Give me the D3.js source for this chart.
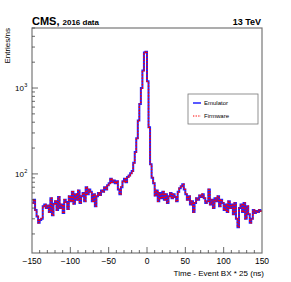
<!DOCTYPE html>
<html lang="en">
<head>
  <meta charset="UTF-8">
  <title>CMS timing</title>
  <script src="https://cdn.jsdelivr.net/npm/d3@7/dist/d3.min.js"></script>
  <style>
    body { margin: 0; background: #fff; }
    text { font-family: "Liberation Sans", Arial, Helvetica, sans-serif; }
  </style>
</head>
<body>
  <svg></svg>
  <script>
    const width = 291, height = 282;

    // bin low edges (ns), 2 ns bins
    const binWidth = 2;
    const entries = [
      46, 50, 38, 32, 27, 29, 30, 42, 44, 40,
      43, 36, 52, 33, 45, 48, 38, 54, 40, 44,
      35, 50, 47, 39, 55, 48, 62, 45, 58, 50,
      64, 46, 55, 60, 48, 70, 58, 66, 62, 48,
      58, 42, 55, 60, 57, 64, 62, 70, 66, 74,
      78, 88, 80, 84, 78, 82, 66, 58, 70, 82,
      88, 80, 92, 96, 102, 108, 135, 180, 260, 420,
      650, 1000, 1600, 2600, 2650, 1200, 350, 130, 90, 78,
      56, 64, 48, 60, 52, 62, 50, 58, 46, 55,
      60, 52, 58, 54, 48, 62, 68, 72, 76, 66,
      58, 50, 55, 44, 48, 36, 46, 52, 50, 56,
      54, 58, 52, 46, 48, 66, 44, 50, 40, 52,
      48, 55, 42, 50, 46, 38, 44, 36, 48, 40,
      44, 34, 46, 30, 24, 40, 44, 36, 46, 30,
      42, 34, 27, 30, 38, 35, 37, 36, 38, 37
    ];
    const xTicks = [-150, -100, -50, 0, 50, 100, 150];
    const yMajor = [100, 1000];
    const yExp = ["2", "3"];
    const legendLabels = ["Emulator", "Firmware"];

    const mLeft = 32, mRight = 262, mTop = 28, mBottom = 253;

    const x = d3.scaleLinear().domain([-150, 150]).range([mLeft, mRight]);
    const y = d3.scaleLog().domain([12, 5000]).range([mBottom, mTop]);

    const svg = d3.select("svg").attr("width", width).attr("height", height);

    const bins = entries.map((v, i) => ({ t: -150 + i * binWidth, v: v }));
    bins.push({ t: 150, v: entries[entries.length - 1] });

    const line = d3.line()
      .x(d => x(d.t))
      .y(d => y(d.v))
      .curve(d3.curveStepAfter);

    // histogram: emulator solid blue, firmware dotted red on top
    svg.append("path")
      .attr("d", line(bins))
      .attr("fill", "none")
      .attr("stroke", "#2222ff")
      .attr("stroke-width", 2);
    svg.append("path")
      .attr("d", line(bins))
      .attr("fill", "none")
      .attr("stroke", "#ff0000")
      .attr("stroke-width", 1.4)
      .attr("stroke-dasharray", "1.6,1.6");

    // frame
    svg.append("rect")
      .attr("x", mLeft).attr("y", mTop)
      .attr("width", mRight - mLeft).attr("height", mBottom - mTop)
      .attr("fill", "none")
      .attr("stroke", "#777")
      .attr("stroke-width", 1.2);

    // x ticks (inward)
    const xMinor = d3.range(-140, 150, 10);
    svg.selectAll(".xt").data(xMinor).enter().append("line")
      .attr("x1", d => x(d)).attr("x2", d => x(d))
      .attr("y1", mBottom).attr("y2", d => mBottom - (d % 50 === 0 ? 6 : 3))
      .attr("stroke", "#444").attr("stroke-width", 0.8);

    svg.selectAll(".xl").data(xTicks).enter().append("text")
      .attr("x", d => x(d)).attr("y", 264)
      .attr("text-anchor", "middle")
      .style("font-size", "8.5px")
      .text(d => d < 0 ? "\u2212" + Math.abs(d) : d);

    // y ticks (inward)
    const yMinor = [];
    [10, 100, 1000].forEach(dec => {
      for (let k = 1; k <= 9; k++) {
        const v = dec * k;
        if (v >= 12 && v <= 5000) yMinor.push(v);
      }
    });
    svg.selectAll(".yt").data(yMinor).enter().append("line")
      .attr("x1", mLeft).attr("x2", d => mLeft + (yMajor.includes(d) ? 6 : 3))
      .attr("y1", d => y(d)).attr("y2", d => y(d))
      .attr("stroke", "#444").attr("stroke-width", 0.8);

    svg.selectAll(".yl").data(yMajor).enter().append("text")
      .attr("x", 24).attr("y", d => y(d) + 3)
      .attr("text-anchor", "end")
      .style("font-size", "8px")
      .text("10");
    svg.selectAll(".ye").data(yMajor).enter().append("text")
      .attr("x", 24.3).attr("y", d => y(d) - 1)
      .style("font-size", "5.5px")
      .text((d, i) => yExp[i]);

    // axis titles
    svg.append("text")
      .attr("transform", `translate(10,${mTop}) rotate(-90)`)
      .attr("text-anchor", "end")
      .style("font-size", "8px")
      .text("Entries/ns");

    svg.append("text")
      .attr("x", mRight + 2).attr("y", 276)
      .attr("text-anchor", "end")
      .style("font-size", "8px")
      .text("Time - Event BX * 25 (ns)");

    // header
    const head = svg.append("text").attr("x", mLeft).attr("y", 25).style("font-weight", "bold");
    head.append("tspan").style("font-size", "11px").text("CMS,");
    head.append("tspan").style("font-size", "8px").attr("dx", 3).text("2016 data");

    svg.append("text")
      .attr("x", mRight - 1).attr("y", 25)
      .attr("text-anchor", "end")
      .style("font-size", "9px").style("font-weight", "bold")
      .text("13 TeV");

    // legend
    const lg = svg.append("g").attr("transform", "translate(188,94)");
    lg.append("rect")
      .attr("width", 70).attr("height", 30)
      .attr("fill", "#fff").attr("stroke", "#777").attr("stroke-width", 0.8);
    lg.append("line").attr("x1", 5).attr("x2", 13).attr("y1", 9).attr("y2", 9)
      .attr("stroke", "#2222ff").attr("stroke-width", 1.5);
    lg.append("line").attr("x1", 5).attr("x2", 13).attr("y1", 22).attr("y2", 22)
      .attr("stroke", "#ff0000").attr("stroke-width", 1)
      .attr("stroke-dasharray", "1.3,1.3");
    lg.selectAll(".lt").data(legendLabels).enter().append("text")
      .attr("x", 16).attr("y", (d, i) => 11 + i * 13)
      .style("font-size", "6px")
      .text(d => d);
  </script>
</body>
</html>
